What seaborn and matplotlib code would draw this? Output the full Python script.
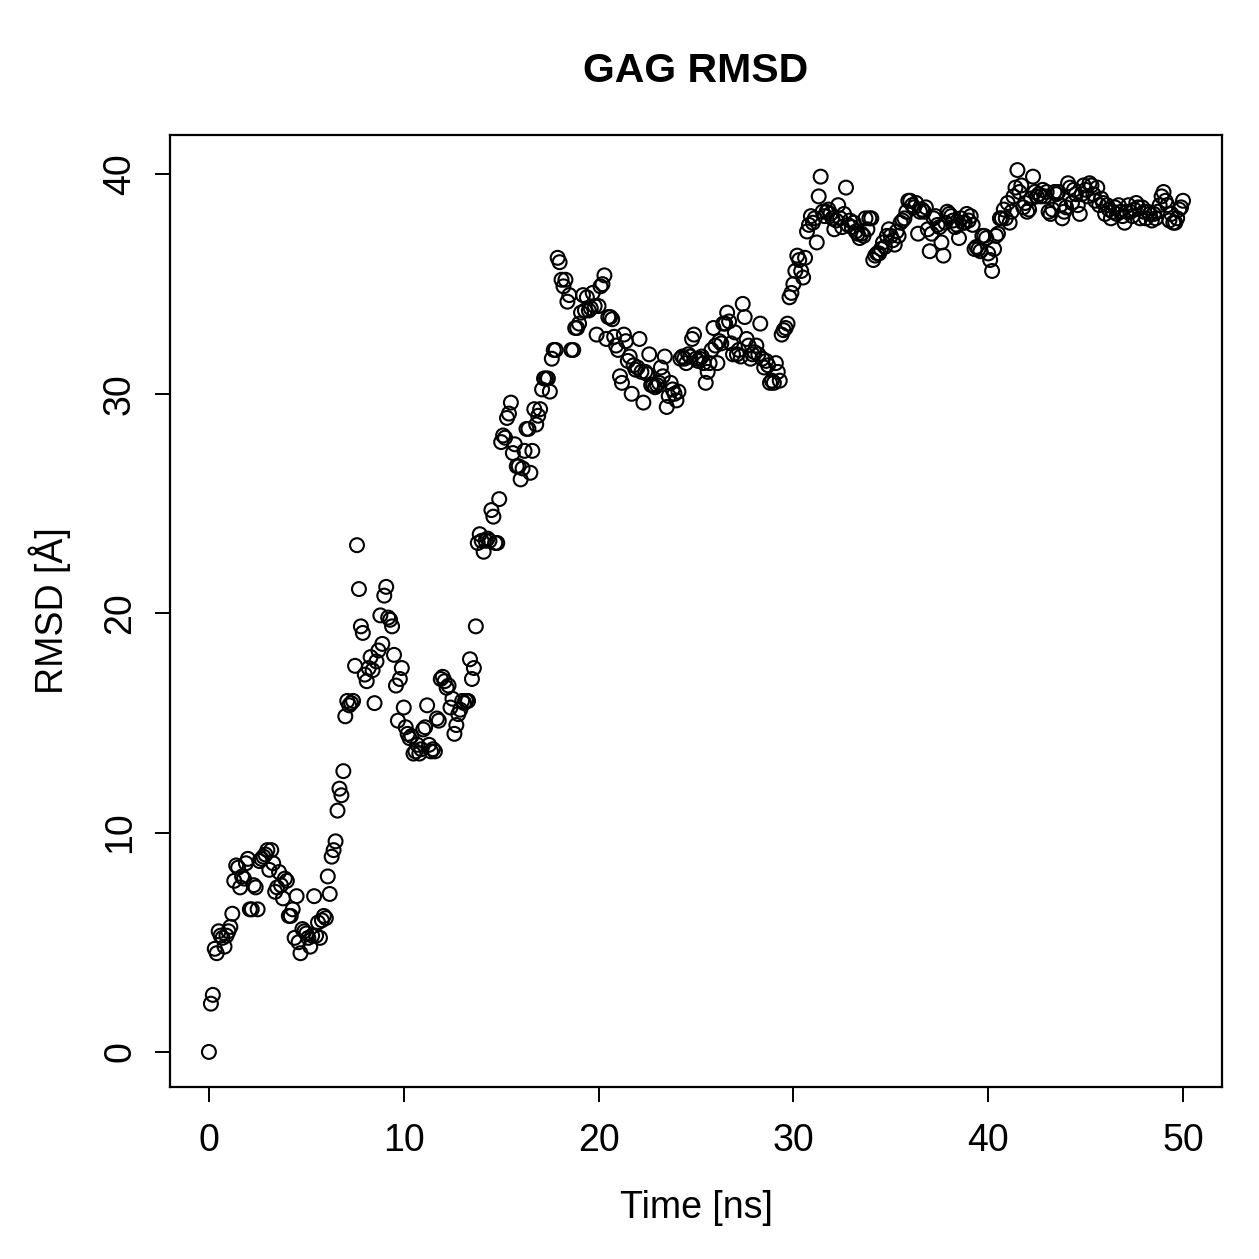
"""
GAG RMSD over simulation time, R base-graphics look with seaborn.
"""

import numpy as np
import pandas as pd
import matplotlib
matplotlib.use("Agg")
import matplotlib.pyplot as plt
import seaborn as sns

# RMSD values, one row per ns (0.1 ns steps)
rmsd_values = [
    0.0, 2.2, 2.6, 4.7, 4.5, 5.5, 5.3, 5.2, 4.8, 5.3,
    5.5, 5.7, 6.3, 7.8, 8.5, 8.4, 7.5, 8.0, 7.9, 8.6,
    8.8, 6.5, 6.5, 7.6, 7.5, 6.5, 8.7, 8.8, 8.9, 9.0,
    9.2, 8.3, 9.2, 8.6, 7.3, 7.5, 8.2, 7.6, 7.0, 7.9,
    7.8, 6.2, 6.2, 6.5, 5.2, 7.1, 5.0, 4.5, 5.6, 5.5,
    5.4, 5.2, 4.8, 5.3, 7.1, 5.3, 5.9, 5.2, 6.0, 6.2,
    6.1, 8.0, 7.2, 8.9, 9.2, 9.6, 11.0, 12.0, 11.7, 12.8,
    15.3, 16.0, 15.8, 15.9, 16.0, 17.6, 23.1, 21.1, 19.4, 19.1,
    17.2, 16.9, 17.5, 18.0, 17.4, 15.9, 17.8, 18.3, 19.9, 18.6,
    20.8, 21.2, 19.8, 19.7, 19.4, 18.1, 16.7, 15.1, 17.0, 17.5,
    15.7, 14.8, 14.5, 14.3, 14.4, 13.6, 13.7, 14.0, 13.6, 13.8,
    14.7, 14.8, 15.8, 14.0, 13.7, 13.8, 13.7, 15.2, 15.1, 17.0,
    17.1, 16.9, 16.6, 16.7, 15.7, 16.1, 14.5, 14.9, 15.4, 15.6,
    16.0, 15.9, 16.0, 16.0, 17.9, 17.0, 17.5, 19.4, 23.2, 23.6,
    23.3, 22.8, 23.3, 23.4, 23.3, 24.7, 24.4, 23.2, 23.2, 25.2,
    27.8, 28.1, 28.0, 28.9, 29.1, 29.6, 27.3, 27.7, 26.7, 26.7,
    26.1, 26.6, 27.4, 28.4, 28.4, 26.4, 27.4, 29.3, 28.6, 29.0,
    29.3, 30.2, 30.7, 30.7, 30.7, 30.1, 31.6, 32.0, 32.0, 36.2,
    36.0, 35.2, 34.9, 35.2, 34.2, 34.5, 32.0, 32.0, 33.0, 33.0,
    33.2, 33.7, 34.5, 33.8, 34.4, 33.8, 33.9, 34.6, 34.0, 32.7,
    34.0, 34.9, 35.0, 35.4, 32.5, 33.5, 33.5, 33.4, 32.6, 32.2,
    32.0, 30.8, 30.5, 32.7, 32.4, 31.5, 31.7, 30.0, 31.3, 31.1,
    31.2, 32.5, 31.0, 29.6, 31.0, 30.9, 31.8, 30.4, 30.4, 30.3,
    30.4, 30.5, 31.2, 30.8, 31.7, 29.4, 29.9, 30.5, 30.2, 30.0,
    29.7, 30.1, 31.6, 31.7, 31.6, 31.4, 31.8, 31.7, 32.5, 32.7,
    31.6, 31.5, 31.6, 31.7, 31.4, 30.5, 31.0, 31.4, 32.0, 33.0,
    32.2, 31.4, 32.4, 32.3, 33.2, 33.2, 33.7, 33.3, 32.3, 31.8,
    32.8, 31.8, 32.0, 31.7, 34.1, 33.5, 32.5, 32.2, 31.6, 31.8,
    31.9, 32.2, 31.8, 33.2, 31.6, 31.2, 31.5, 31.3, 30.5, 30.6,
    30.5, 31.4, 31.0, 30.6, 32.7, 32.9, 33.0, 33.2, 34.4, 34.6,
    35.0, 35.6, 36.3, 36.1, 35.6, 35.3, 36.2, 37.4, 37.7, 38.1,
    37.8, 38.0, 36.9, 39.0, 39.9, 38.3, 38.1, 38.3, 38.4, 38.2,
    38.0, 37.5, 37.9, 38.6, 38.0, 37.6, 38.2, 39.4, 37.7, 37.9,
    37.6, 37.8, 37.4, 37.3, 37.1, 37.3, 37.2, 38.0, 37.5, 38.0,
    38.0, 36.1, 36.3, 36.4, 36.4, 36.6, 36.9, 36.7, 37.2, 37.5,
    37.2, 37.0, 36.8, 37.4, 37.2, 37.8, 37.9, 38.0, 38.3, 38.8,
    38.8, 38.6, 38.5, 38.7, 37.3, 38.3, 38.4, 38.3, 38.5, 37.5,
    36.5, 37.3, 38.0, 38.1, 37.7, 37.6, 36.9, 36.3, 37.8, 38.3,
    38.2, 38.1, 37.9, 37.6, 37.7, 37.1, 38.0, 37.8, 37.8, 38.2,
    37.9, 38.1, 37.7, 36.6, 36.7, 36.6, 36.5, 37.2, 37.2, 37.1,
    36.4, 36.1, 35.6, 36.6, 37.2, 37.3, 38.0, 38.0, 38.4, 38.0,
    38.7, 37.8, 38.3, 39.0, 39.4, 40.2, 39.2, 39.5, 38.5, 38.7,
    38.3, 38.4, 38.9, 39.9, 39.2, 39.0, 39.1, 39.0, 39.3, 39.0,
    39.2, 38.3, 38.2, 38.4, 39.2, 39.1, 39.2, 38.6, 38.0, 38.3,
    38.5, 39.6, 39.4, 38.7, 39.3, 39.1, 38.6, 38.2, 39.1, 39.5,
    39.3, 39.0, 39.6, 39.5, 39.1, 38.8, 39.4, 38.6, 38.9, 38.7,
    38.2, 38.6, 38.4, 38.0, 38.3, 38.5, 38.2, 38.6, 38.3, 38.1,
    37.8, 38.3, 38.6, 38.3, 38.1, 38.4, 38.7, 38.5, 38.0, 38.5,
    38.3, 38.0, 38.3, 38.2, 37.9, 38.2, 38.0, 38.3, 38.6, 39.0,
    39.2, 38.8, 38.6, 37.9, 38.2, 37.8, 37.8, 38.0, 38.4, 38.5,
    38.8,
]
time_ns = np.linspace(0, 50, len(rmsd_values))

x_ticks = [0, 10, 20, 30, 40, 50]
y_ticks = [0, 10, 20, 30, 40]

df = pd.DataFrame({"Time": time_ns, "RMSD": rmsd_values})

sns.set_theme(style="white")
plt.rcParams["font.family"] = ["Liberation Sans", "DejaVu Sans"]

fig = plt.figure(figsize=(12.59, 12.59), dpi=100)
ax = fig.add_axes([0.135, 0.1366, 0.8356, 0.7562])

sns.scatterplot(
    data=df, x="Time", y="RMSD", ax=ax,
    marker="o", s=100, facecolor="none", edgecolor="black", linewidth=1.5,
)

ax.set_xlim(-2, 52)
ax.set_ylim(-1.6, 41.8)
ax.set_xticks(x_ticks)
ax.set_yticks(y_ticks)

for side in ["top", "bottom", "left", "right"]:
    ax.spines[side].set_visible(True)
    ax.spines[side].set_color("black")
    ax.spines[side].set_linewidth(1.6)

ax.tick_params(axis="both", which="major", direction="out", length=11, width=1.4,
               color="black", labelsize=27, labelcolor="black",
               bottom=True, left=True, top=False, right=False)
ax.tick_params(axis="x", pad=15)
ax.tick_params(axis="y", pad=12, labelrotation=90)
for lbl in ax.get_yticklabels():
    lbl.set_va("center")

ax.set_xlabel("Time [ns]", fontsize=27, color="black", labelpad=22)
ax.set_ylabel("RMSD [Å]", fontsize=27, color="black", labelpad=22)
ax.set_title("GAG RMSD", fontsize=29.5, fontweight="bold", color="black", pad=38)
ax.grid(False)

plt.savefig("out.png", dpi=100, facecolor="white")
